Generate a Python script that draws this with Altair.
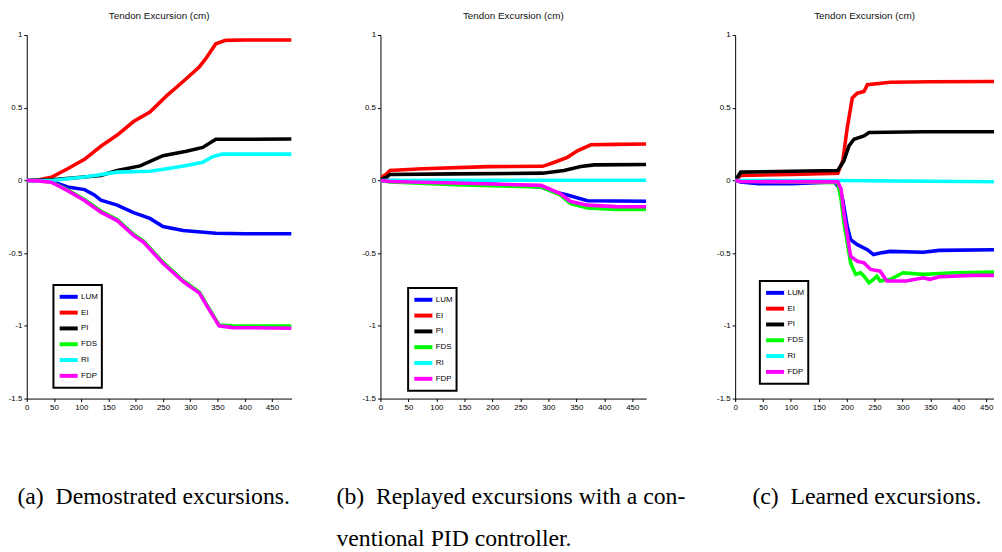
import altair as alt
import pandas as pd

SERIES = ["LUM", "EI", "PI", "FDS", "RI", "FDP"]
COLORS = ["#0000ff", "#ff0000", "#000000", "#00ff00", "#00ffff", "#ff00ff"]
X_TICKS = [0, 50, 100, 150, 200, 250, 300, 350, 400, 450]
Y_TICKS = [-1.5, -1, -0.5, 0, 0.5, 1]
TITLE = "Tendon Excursion (cm)"
CAPTION_A = ["(a)\u00a0 Demostrated excursions."]
CAPTION_B = ["(b)\u00a0 Replayed excursions with a con-", "ventional PID controller."]
CAPTION_C = ["(c)\u00a0 Learned excursions."]

# ---- panel (a) demonstrated ----
A_LUM_X = [0, 20, 45, 63, 75, 106, 124, 136, 166, 196, 226, 250, 287, 347, 400, 486]
A_LUM_Y = [0, 0, -0.005, -0.03, -0.045, -0.063, -0.10, -0.136, -0.17, -0.222, -0.261, -0.317, -0.345, -0.363, -0.367, -0.367]
A_EI_X = [0, 20, 45, 75, 106, 136, 166, 196, 226, 257, 287, 317, 329, 347, 365, 400, 486]
A_EI_Y = [0, 0.003, 0.022, 0.08, 0.145, 0.235, 0.312, 0.405, 0.47, 0.583, 0.68, 0.782, 0.84, 0.94, 0.963, 0.965, 0.965]
A_PI_X = [0, 45, 106, 136, 166, 208, 250, 293, 323, 347, 400, 486]
A_PI_Y = [0, 0.005, 0.023, 0.034, 0.068, 0.10, 0.17, 0.20, 0.227, 0.283, 0.283, 0.285]
A_FDS_X = [0, 20, 45, 75, 106, 136, 166, 196, 214, 250, 287, 317, 329, 353, 378, 486]
A_FDS_Y = [0, -0.002, -0.01, -0.065, -0.132, -0.21, -0.268, -0.37, -0.415, -0.562, -0.688, -0.768, -0.846, -0.994, -1.0, -1.002]
A_RI_X = [0, 45, 106, 166, 226, 257, 293, 323, 341, 359, 486]
A_RI_Y = [0, 0, 0.023, 0.057, 0.063, 0.08, 0.102, 0.125, 0.163, 0.181, 0.181]
A_FDP_X = [0, 20, 45, 75, 106, 136, 166, 196, 214, 250, 287, 317, 329, 353, 378, 486]
A_FDP_Y = [0, -0.003, -0.012, -0.07, -0.138, -0.218, -0.276, -0.378, -0.423, -0.57, -0.695, -0.775, -0.852, -1.0, -1.012, -1.016]

# ---- panel (b) replayed with PID ----
B_LUM_X = [0, 17, 134, 287, 311, 334, 370, 475]
B_LUM_Y = [0, 0, -0.011, -0.045, -0.08, -0.10, -0.14, -0.143]
B_EI_X = [0, 5, 11, 17, 75, 193, 290, 311, 334, 352, 376, 420, 475]
B_EI_Y = [0, 0.03, 0.045, 0.068, 0.08, 0.095, 0.097, 0.125, 0.159, 0.204, 0.245, 0.248, 0.25]
B_PI_X = [0, 5, 11, 17, 134, 290, 328, 358, 382, 475]
B_PI_Y = [0, 0.015, 0.022, 0.041, 0.045, 0.05, 0.068, 0.095, 0.107, 0.109]
B_FDS_X = [0, 17, 134, 287, 321, 340, 370, 420, 475]
B_FDS_Y = [0, -0.01, -0.03, -0.045, -0.1, -0.16, -0.19, -0.2, -0.2]
B_RI_X = [0, 100, 300, 475]
B_RI_Y = [0, 0.001, 0.001, 0.001]
B_FDP_X = [0, 17, 134, 287, 321, 340, 370, 420, 475]
B_FDP_Y = [0, -0.008, -0.018, -0.034, -0.09, -0.145, -0.17, -0.18, -0.181]

# ---- panel (c) learned ----
C_LUM_X = [0, 10, 42, 101, 178, 186, 193, 201, 207, 219, 237, 248, 260, 278, 337, 366, 475]
C_LUM_Y = [0, -0.01, -0.023, -0.023, -0.011, -0.05, -0.136, -0.317, -0.408, -0.442, -0.476, -0.51, -0.499, -0.488, -0.494, -0.481, -0.476]
C_EI_X = [0, 1, 10, 101, 184, 193, 201, 210, 219, 231, 237, 278, 350, 475]
C_EI_Y = [0, 0, 0.034, 0.041, 0.05, 0.136, 0.363, 0.567, 0.6, 0.612, 0.658, 0.675, 0.678, 0.68]
C_PI_X = [0, 10, 101, 184, 195, 204, 213, 231, 240, 337, 475]
C_PI_Y = [0, 0.057, 0.063, 0.068, 0.136, 0.238, 0.283, 0.306, 0.329, 0.335, 0.335]
C_FDS_X = [0, 10, 184, 190, 195, 207, 216, 225, 231, 240, 248, 254, 260, 278, 301, 337, 396, 475]
C_FDS_Y = [0, -0.005, -0.015, -0.136, -0.295, -0.567, -0.646, -0.635, -0.658, -0.703, -0.68, -0.658, -0.692, -0.68, -0.635, -0.646, -0.635, -0.63]
C_RI_X = [0, 184, 475]
C_RI_Y = [0, 0, -0.01]
C_FDP_X = [0, 10, 184, 190, 195, 207, 219, 231, 243, 260, 272, 307, 337, 349, 366, 425, 475]
C_FDP_Y = [0, -0.008, -0.01, -0.06, -0.227, -0.522, -0.556, -0.567, -0.612, -0.624, -0.692, -0.692, -0.669, -0.68, -0.662, -0.653, -0.653]

SANS = "Liberation Sans, Arial, sans-serif"
SERIF = "Liberation Serif, Times New Roman, serif"


def frame(series_data):
    rows = []
    for name, xs, ys in series_data:
        for x, y in zip(xs, ys):
            rows.append({"t": x, "v": y, "muscle": name})
    return pd.DataFrame(rows)


DF_A = frame([("LUM", A_LUM_X, A_LUM_Y), ("EI", A_EI_X, A_EI_Y), ("PI", A_PI_X, A_PI_Y),
              ("FDS", A_FDS_X, A_FDS_Y), ("RI", A_RI_X, A_RI_Y), ("FDP", A_FDP_X, A_FDP_Y)])
DF_B = frame([("LUM", B_LUM_X, B_LUM_Y), ("EI", B_EI_X, B_EI_Y), ("PI", B_PI_X, B_PI_Y),
              ("FDS", B_FDS_X, B_FDS_Y), ("RI", B_RI_X, B_RI_Y), ("FDP", B_FDP_X, B_FDP_Y)])
DF_C = frame([("LUM", C_LUM_X, C_LUM_Y), ("EI", C_EI_X, C_EI_Y), ("PI", C_PI_X, C_PI_Y),
              ("FDS", C_FDS_X, C_FDS_Y), ("RI", C_RI_X, C_RI_Y), ("FDP", C_FDP_X, C_FDP_Y)])


def panel(df, xmax, width, caption, cap_x, leg_x, leg_y):
    return alt.Chart(df).mark_line(strokeWidth=3.6, clip=True).encode(
        x=alt.X("t:Q",
                scale=alt.Scale(domain=[0, xmax], nice=False, zero=False),
                axis=alt.Axis(values=X_TICKS, title=caption, titleX=cap_x, titleY=106,
                              titleAlign="left", titleAnchor="start", titleBaseline="alphabetic",
                              titleLineHeight=43, labelFlush=False)),
        y=alt.Y("v:Q",
                scale=alt.Scale(domain=[-1.5, 1], nice=False, zero=False),
                axis=alt.Axis(values=Y_TICKS, title=None, labelExpr="'' + datum.value")),
        color=alt.Color("muscle:N",
                        scale=alt.Scale(domain=SERIES, range=COLORS),
                        legend=alt.Legend(title=None, orient="none", legendX=leg_x, legendY=leg_y)),
    ).properties(width=width, height=368, title=TITLE)


pa = panel(DF_A, 486, 268, CAPTION_A, -10, 27, 253)
pb = panel(DF_B, 475, 269, CAPTION_B, -45, 28, 256)
pc = panel(DF_C, 464, 262, CAPTION_C, 17, 25, 249)

chart = alt.hconcat(pa, pb, pc, spacing=90, bounds="flush").resolve_scale(
    color="independent"
).properties(padding=0).configure_view(
    strokeWidth=0
).configure_axis(
    domainColor="black", domainWidth=1, tickColor="black", tickSize=3, tickWidth=1,
    labelColor="black", labelFont=SANS, labelFontSize=8, labelPadding=2, grid=False,
    titleFont=SERIF, titleFontSize=24, titleFontWeight="normal", titleColor="black"
).configure_title(
    font=SANS, fontSize=10, fontWeight="normal", color="#111111", offset=10, anchor="middle"
).configure_legend(
    strokeColor="black", strokeWidth=2, fillColor="white", padding=4,
    labelFont=SANS, labelFontSize=8, labelColor="black", labelOffset=8,
    symbolType="M-1,0H2.2", symbolStrokeWidth=4, symbolSize=130, rowPadding=0
)

chart.save("out.html", embed_options={"renderer": "svg", "actions": False})
